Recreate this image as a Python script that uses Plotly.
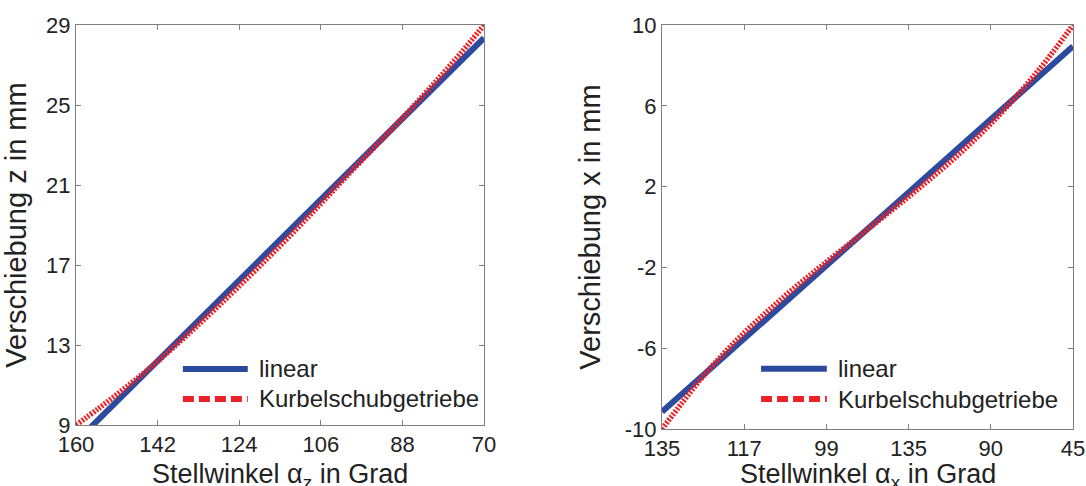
import plotly.graph_objects as go
from plotly.subplots import make_subplots

# ---------------- data ----------------
# left plot: Stellwinkel alpha_z (deg) vs Verschiebung z (mm)
alpha_z_lin = [160, 70]
z_linear = [8.16, 28.35]
alpha_z = [160, 155, 150, 145, 140, 135, 130, 125, 120, 115, 110,
           105, 100, 95, 90, 85, 80, 75, 70]
z_kurbel = [9.00, 9.83, 10.70, 11.61, 12.58, 13.60, 14.65, 15.73, 16.83,
            17.96, 19.12, 20.31, 21.51, 22.69, 23.87, 25.08, 26.33, 27.62, 29.00]
x_ticks_left = [160, 142, 124, 106, 88, 70]
y_ticks_left = [9, 13, 17, 21, 25, 29]

# right plot: Stellwinkel alpha_x (tick position units) vs Verschiebung x (mm)
pos_x_lin = [0, 5]
x_linear = [-9.15, 8.95]
pos_x = [0, 0.25, 0.5, 0.75, 1.0, 1.25, 1.5, 1.75, 2.0, 2.25, 2.5,
         2.75, 3.0, 3.25, 3.5, 3.75, 4.0, 4.25, 4.5, 4.75, 5.0]
x_kurbel = [-10.0, -8.67, -7.39, -6.27, -5.24, -4.30, -3.40, -2.55, -1.73,
            -0.93, -0.12, 0.69, 1.50, 2.34, 3.20, 4.12, 5.11, 6.19, 7.36, 8.63, 10.0]
x_tickvals_right = [0, 1, 2, 3, 4, 5]
x_ticktext_right = ["135", "117", "99", "135", "90", "45"]
y_ticks_right = [-10, -6, -2, 2, 6, 10]
y_ticktext_right = ["-10", "-6", "-2", "2", "6", "10"]

names = ["linear", "Kurbelschubgetriebe"]
x_titles = ["Stellwinkel α<sub>z</sub> in Grad", "Stellwinkel α<sub>x</sub> in Grad"]

# ---------------- style ----------------
BLUE = "#2C4A9E"
RED = "#EC2227"
AXC = "#7F7F7F"
FONT = "Liberation Sans, Arial, sans-serif"
TXT = "#222222"

fig = make_subplots(rows=1, cols=2)

fig.add_trace(go.Scatter(x=alpha_z_lin, y=z_linear, mode="lines", name=names[0],
                         line=dict(color=BLUE, width=6), showlegend=False), 1, 1)
fig.add_trace(go.Scatter(x=alpha_z, y=z_kurbel, mode="lines", name=names[1],
                         line=dict(color=RED, width=5.5, dash="2px,1.5px", shape="spline"),
                         showlegend=False), 1, 1)
fig.add_trace(go.Scatter(x=pos_x_lin, y=x_linear, mode="lines", name=names[0],
                         line=dict(color=BLUE, width=6), showlegend=False), 1, 2)
fig.add_trace(go.Scatter(x=pos_x, y=x_kurbel, mode="lines", name=names[1],
                         line=dict(color=RED, width=5.5, dash="2px,1.5px", shape="spline"),
                         showlegend=False), 1, 2)

W, H = 1086, 486
def dom_x(a, b):
    return [a / W, b / W]
def dom_y(top, bottom):
    return [(H - bottom) / H, (H - top) / H]

axis_common = dict(showline=True, linecolor=AXC, linewidth=1, mirror="ticks",
                   ticks="inside", ticklen=5, tickcolor=AXC, showgrid=False,
                   zeroline=False, automargin=False,
                   tickfont=dict(family=FONT, size=22, color=TXT))
XT = dict(family=FONT, size=27, color=TXT)
YT = dict(family=FONT, size=29, color=TXT)

fig.update_layout(
    width=W, height=H, autosize=False,
    margin=dict(l=0, r=0, t=0, b=0),
    paper_bgcolor="white", plot_bgcolor="white",
    showlegend=False,
    xaxis=dict(axis_common, domain=dom_x(76, 484), range=[160, 70],
               tickvals=x_ticks_left),
    yaxis=dict(axis_common, domain=dom_y(25, 425), range=[9, 29],
               tickvals=y_ticks_left,
               title=dict(text="Verschiebung z in mm", font=YT)),
    xaxis2=dict(axis_common, domain=dom_x(662, 1073), range=[0, 5],
                tickvals=x_tickvals_right, ticktext=x_ticktext_right),
    yaxis2=dict(axis_common, domain=dom_y(25, 429), range=[-10, 10],
                tickvals=y_ticks_right, ticktext=y_ticktext_right,
                title=dict(text="Verschiebung x in mm", font=YT)),
)

# x-axis titles below the tick labels
for xr, txt in zip(["x domain", "x2 domain"], x_titles):
    fig.add_annotation(xref=xr, yref="paper", x=0.5, y=(H - 457) / H, text=txt,
                       showarrow=False, xanchor="center", yanchor="top", font=XT)

# legends drawn inside each axes (bottom right)
legend_layout = [
    # (xref, yref, sample x0, x1, text x, row y1, row y2)
    ("x domain", "y domain", 0.262, 0.421, 0.444, 0.140, 0.065),
    ("x2 domain", "y2 domain", 0.241, 0.401, 0.424, 0.149, 0.074),
]
for xr, yr, s0, s1, tx, r1, r2 in legend_layout:
    fig.add_shape(type="line", xref=xr, yref=yr, x0=s0, x1=s1, y0=r1, y1=r1,
                  line=dict(color=BLUE, width=6))
    fig.add_shape(type="line", xref=xr, yref=yr, x0=s0, x1=s1, y0=r2, y1=r2,
                  line=dict(color=RED, width=6, dash="11px,5px"))
    fig.add_annotation(xref=xr, yref=yr, x=tx, y=r1, text=names[0], showarrow=False,
                       xanchor="left", yanchor="middle",
                       font=dict(family=FONT, size=24, color=TXT))
    fig.add_annotation(xref=xr, yref=yr, x=tx, y=r2, text=names[1], showarrow=False,
                       xanchor="left", yanchor="middle",
                       font=dict(family=FONT, size=24, color=TXT))

fig.write_html("out.html", config={"displayModeBar": False},
               post_script="document.body.style.margin='0';document.body.style.overflow='hidden';")
